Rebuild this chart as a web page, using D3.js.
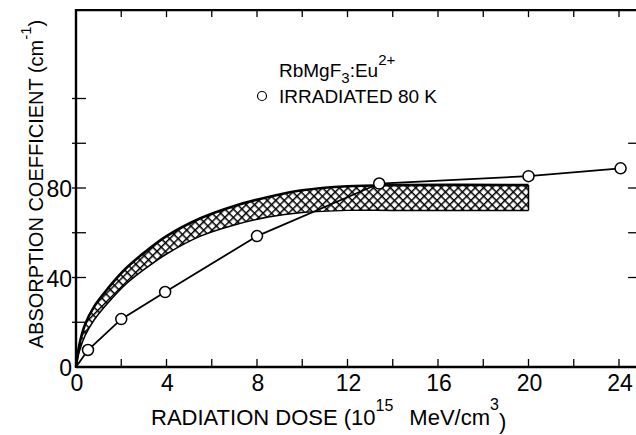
<!DOCTYPE html>
<html>
<head>
<meta charset="utf-8">
<script src="https://cdn.jsdelivr.net/npm/d3@7"></script>
<style>
  body { margin: 0; background: #fff; }
  svg { display: block; font-family: "Liberation Sans", Arial, sans-serif; }
</style>
</head>
<body>
<svg id="svg"></svg>
<script>

const width = 636;
const height = 435;

// measured points (open circles)
const doseX = [0, 0.53, 2.0, 3.94, 8.0, 13.4, 20.0, 24.07];
const absorb = [0, 7.6, 21.4, 33.5, 58.5, 82, 85.3, 88.8];

// hatched band (upper / lower edge)
const bandX = [0, 0.15, 0.4, 0.8, 1.4, 2.2, 3, 4, 5.5, 7, 8.5, 10, 12, 14, 20];
const bandUpper = [0, 10, 19, 27, 35, 44, 51, 58.5, 66.5, 72, 76, 79, 80.8, 81.3, 81.3];
const bandLower = [0, 7, 14, 21, 28.5, 37, 43.5, 50.5, 58.5, 63.5, 67, 69, 70, 70, 70];

const xTickLabels = [0, 4, 8, 12, 16, 20, 24];
const xMinorTicks = [2, 6, 10, 14, 18, 22];
const yTickLabels = [0, 40, 80];
const yTicksLeft = [20, 40, 60, 80, 100, 120];
const yTicksRight = [40, 60, 80, 100];

const xMax = 24.8;
const yMax = 159.5;

const x = d3.scaleLinear().domain([0, 24]).range([76, 619]);
const y = d3.scaleLinear().domain([0, 80]).range([367, 188]);

const svg = d3.select("#svg")
  .attr("width", width)
  .attr("height", height)
  .attr("viewBox", `0 0 ${width} ${height}`);

// cross hatch
svg.append("defs").append("pattern")
  .attr("id", "hatch")
  .attr("patternUnits", "userSpaceOnUse")
  .attr("width", 6)
  .attr("height", 6)
  .attr("patternTransform", "rotate(45)")
  .call(p => {
    p.append("line").attr("x1", 0).attr("y1", 0).attr("x2", 6).attr("y2", 0)
      .attr("stroke", "#000").attr("stroke-width", 3);
    p.append("line").attr("x1", 0).attr("y1", 0).attr("x2", 0).attr("y2", 6)
      .attr("stroke", "#000").attr("stroke-width", 3);
  });

const band = bandX.map((d, i) => ({ x: d, hi: bandUpper[i], lo: bandLower[i] }));
const curve = d3.curveCatmullRom.alpha(0.5);

const area = d3.area()
  .x(d => x(d.x))
  .y0(d => y(d.lo))
  .y1(d => y(d.hi))
  .curve(curve);

svg.append("path")
  .datum(band)
  .attr("d", area)
  .attr("fill", "url(#hatch)")
  .attr("stroke", "none");

svg.append("path")
  .datum(band)
  .attr("d", d3.line().x(d => x(d.x)).y(d => y(d.hi)).curve(curve))
  .attr("fill", "none")
  .attr("stroke", "#000")
  .attr("stroke-width", 2.6);

svg.append("path")
  .datum(band)
  .attr("d", d3.line().x(d => x(d.x)).y(d => y(d.lo)).curve(curve))
  .attr("fill", "none")
  .attr("stroke", "#000")
  .attr("stroke-width", 1.5);

const last = band[band.length - 1];
svg.append("line")
  .attr("x1", x(last.x)).attr("x2", x(last.x))
  .attr("y1", y(last.hi)).attr("y2", y(last.lo))
  .attr("stroke", "#000")
  .attr("stroke-width", 1.5);

// frame
const frame = svg.append("g")
  .attr("fill", "none")
  .attr("stroke", "#000");

frame.append("line")
  .attr("x1", x(0)).attr("x2", x(xMax)).attr("y1", y(yMax)).attr("y2", y(yMax))
  .attr("stroke-width", 2.2);
frame.append("line")
  .attr("x1", x(0)).attr("x2", x(0)).attr("y1", y(yMax) - 1).attr("y2", y(0) + 1)
  .attr("stroke-width", 2.4);
frame.append("line")
  .attr("x1", x(0)).attr("x2", x(xMax)).attr("y1", y(0)).attr("y2", y(0))
  .attr("stroke-width", 2.6);

// ticks, all pointing inward
const ticks = svg.append("g").attr("stroke", "#000").attr("stroke-width", 1.3);

ticks.selectAll(".tb")
  .data(xTickLabels.slice(1).concat(xMinorTicks))
  .enter().append("line")
  .attr("x1", d => x(d)).attr("x2", d => x(d))
  .attr("y1", y(0)).attr("y2", y(0) - 8);

ticks.selectAll(".tt")
  .data(xTickLabels.slice(1).concat(xMinorTicks))
  .enter().append("line")
  .attr("x1", d => x(d)).attr("x2", d => x(d))
  .attr("y1", y(yMax)).attr("y2", y(yMax) + 7);

ticks.selectAll(".tl")
  .data(yTicksLeft)
  .enter().append("line")
  .attr("x1", x(0) - 4).attr("x2", x(0) + 10)
  .attr("y1", d => y(d)).attr("y2", d => y(d));

ticks.selectAll(".tr")
  .data(yTicksRight)
  .enter().append("line")
  .attr("x1", x(xMax)).attr("x2", x(xMax) - 9)
  .attr("y1", d => y(d)).attr("y2", d => y(d));

// tick labels
svg.append("g")
  .attr("font-size", 23)
  .attr("text-anchor", "middle")
  .selectAll("text")
  .data(xTickLabels)
  .enter().append("text")
  .attr("x", d => x(d) + 1)
  .attr("y", 391)
  .text(d => d);

svg.append("g")
  .attr("font-size", 23)
  .attr("text-anchor", "end")
  .selectAll("text")
  .data(yTickLabels)
  .enter().append("text")
  .attr("x", 72)
  .attr("y", d => y(d) + 9)
  .text(d => d);

// data line and circles
const pts = doseX.map((d, i) => ({ x: d, v: absorb[i] }));

svg.append("path")
  .datum(pts)
  .attr("d", d3.line().x(d => x(d.x)).y(d => y(d.v)))
  .attr("fill", "none")
  .attr("stroke", "#000")
  .attr("stroke-width", 1.8);

svg.selectAll(".pt")
  .data(pts.slice(1))
  .enter().append("circle")
  .attr("cx", d => x(d.x))
  .attr("cy", d => y(d.v))
  .attr("r", 5.5)
  .attr("fill", "#fff")
  .attr("stroke", "#000")
  .attr("stroke-width", 1.5);

// legend
const legend = svg.append("g").attr("font-size", 19);

legend.append("text")
  .attr("x", 279).attr("y", 77)
  .call(t => {
    t.append("tspan").text("RbMgF");
    t.append("tspan").attr("font-size", 15).attr("dy", 6).text("3");
    t.append("tspan").attr("dy", -6).text(":Eu");
    t.append("tspan").attr("font-size", 15).attr("dy", -12).text("2+");
  });

legend.append("circle")
  .attr("cx", 262).attr("cy", 96)
  .attr("r", 4.5)
  .attr("fill", "#fff")
  .attr("stroke", "#000")
  .attr("stroke-width", 1.2);

legend.append("text")
  .attr("x", 279).attr("y", 103)
  .text("IRRADIATED 80 K");

// axis titles
svg.append("text")
  .attr("x", 151).attr("y", 425)
  .attr("font-size", 22)
  .call(t => {
    t.append("tspan").text("RADIATION DOSE (10");
    t.append("tspan").attr("font-size", 16).attr("dy", -14).text("15");
    t.append("tspan").attr("dx", 16).attr("dy", 14).text("MeV/cm");
    t.append("tspan").attr("font-size", 16).attr("dy", -15).text("3");
    t.append("tspan").attr("dy", 19).text(")");
  });

svg.append("text")
  .attr("transform", "translate(43,184) rotate(-90)")
  .attr("text-anchor", "middle")
  .attr("font-size", 20)
  .call(t => {
    t.append("tspan").text("ABSORPTION COEFFICIENT  (cm");
    t.append("tspan").attr("font-size", 15).attr("dy", -12).text("-1");
    t.append("tspan").attr("dy", 12).text(")");
  });

</script>
</body>
</html>
